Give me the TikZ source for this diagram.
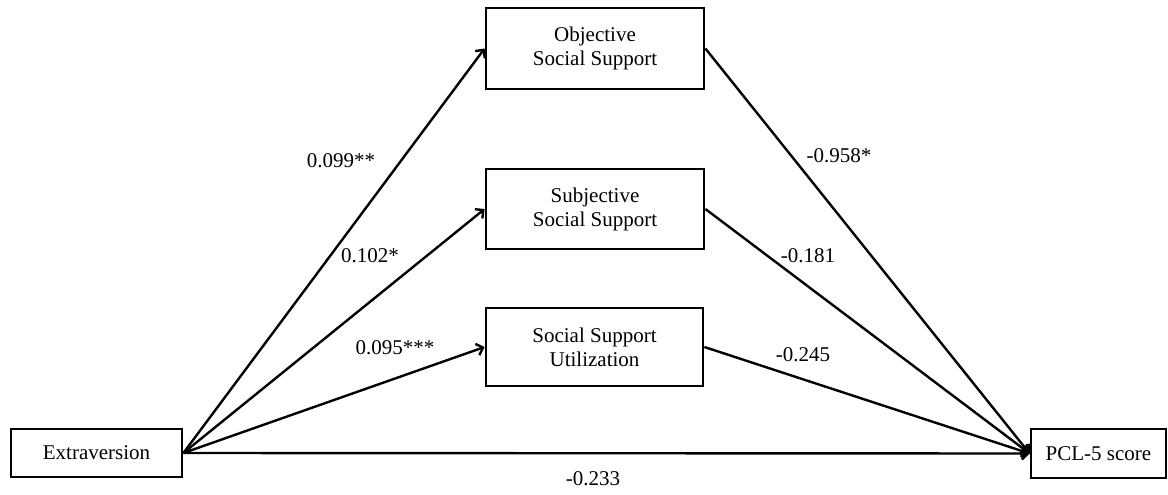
\documentclass[tikz,border=0pt]{standalone}
\usepackage{fontspec}
\setmainfont{Liberation Serif}
\usetikzlibrary{arrows.meta}
\tikzset{
  varbox/.style={draw=black, line width=2.8pt, align=center, inner sep=0pt,
    font=\fontsize{21}{24}\selectfont},
  pathline/.style={draw=black, line width=2.4pt,
    -{Straight Barb[length=6pt,width=12pt,line width=2.4pt]}},
  coef/.style={font=\fontsize{21}{24}\selectfont, inner sep=0pt}
}
\begin{document}
\begin{tikzpicture}[y=1pt, x=1pt, yscale=-1]
  \useasboundingbox (0,0) rectangle (1168,495);
  \node[varbox, minimum width=218, minimum height=81] (objective) at (595,48.5)
    {Objective\\Social Support};
  \node[varbox, minimum width=218, minimum height=80] (subjective) at (595,209)
    {Subjective\\Social Support};
  \node[varbox, minimum width=217, minimum height=78] (utilization) at (594.5,347)
    {Social Support\\Utilization};
  \node[varbox, minimum width=171, minimum height=48] (extraversion) at (96.5,453)
    {Extraversion};
  \node[varbox, minimum width=135, minimum height=49] (pcl) at (1098.5,453.5)
    {PCL-5 score};
  \path[pathline] (extraversion.east) -- (objective.west);
  \path[pathline] (extraversion.east) -- (subjective.west);
  \path[pathline] (extraversion.east) -- (utilization.west);
  \path[pathline] (extraversion.east) -- (pcl.west);
  \path[pathline] (objective.east) -- (pcl.west);
  \path[pathline] (subjective.east) -- (pcl.west);
  \path[pathline] (utilization.east) -- (pcl.west);
  \node[coef] (text099) at (341,161) {0.099**};
  \node[coef] (text102) at (370,256) {0.102*};
  \node[coef] (text095) at (395,348) {0.095***};
  \node[coef] (text958) at (839,156) {-0.958*};
  \node[coef] (text181) at (808,256) {-0.181};
  \node[coef] (text245) at (803,355) {-0.245};
  \node[coef] (text233) at (593,479) {-0.233};
\end{tikzpicture}
\end{document}
